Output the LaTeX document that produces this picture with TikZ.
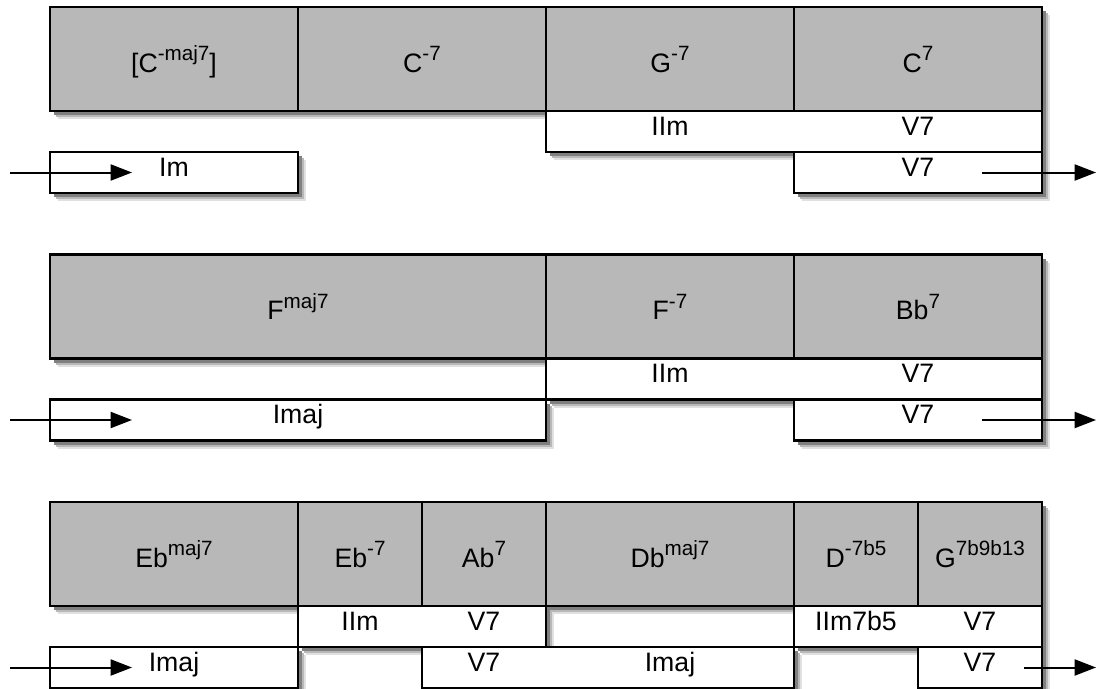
\documentclass[tikz,border=0pt]{standalone}
\usepackage{fontspec}
\setmainfont{Liberation Sans}
\usetikzlibrary{arrows.meta}

\definecolor{chordgray}{gray}{0.72}
\newcommand{\chordext}[1]{\raisebox{0.43em}{\fontsize{15.5}{16}\selectfont #1}}

\begin{document}
\begin{tikzpicture}[x=0.75pt, y=-0.75pt, line width=1.6pt,
    boxshadow/.style={
      preaction={draw=none, fill=black!12, transform canvas={shift={(6pt,-6pt)}}},
      preaction={draw=none, fill=black!28, transform canvas={shift={(4.5pt,-4.5pt)}}},
      preaction={draw=none, fill=black!50, transform canvas={shift={(3pt,-3pt)}}}},
    cell/.style={draw, boxshadow, anchor=north west, inner sep=0pt, outer sep=0pt},
    chord/.style={cell, fill=chordgray, minimum height=78pt},
    fn/.style={cell, fill=white, minimum height=30.75pt},
    lbl/.style={anchor=base, inner sep=0pt, font=\fontsize{20}{24}\selectfont},
    flow/.style={line width=1.5pt, -{Triangle[length=16pt, width=12pt]}}]
  \useasboundingbox (0,0) rectangle (1097,689);

  % first line
  \foreach \x/\w/\n in {50/248/a, 298/248/b, 546/248/c, 794/248/d}
    \node[chord, minimum width=\w*0.75pt] (c1\n) at (\x,7) {};
  \node[fn, minimum width=372pt] (f1a) at (546,111) {};
  \foreach \x/\w/\n in {50/248/a, 794/248/b}
    \node[fn, minimum width=\w*0.75pt] (g1\n) at (\x,152) {};
  \foreach \x/\y/\t [count=\i] in {174/72/{[C\chordext{-maj7}]}, 422/72/C\chordext{-7},
      670/72/G\chordext{-7}, 918/72/C\chordext{7},
      670/135/IIm, 918/135/V7, 174/176/Im, 918/176/V7}
    \node[lbl] (t1\i) at (\x,\y) {\t};

  % second line
  \foreach \x/\w/\n in {50/496/a, 546/248/b, 794/248/c}
    \node[chord, minimum width=\w*0.75pt] (c2\n) at (\x,254.5) {};
  \node[fn, minimum width=372pt] (f2a) at (546,358.5) {};
  \foreach \x/\w/\n in {50/496/a, 794/248/b}
    \node[fn, minimum width=\w*0.75pt] (g2\n) at (\x,399.5) {};
  \foreach \x/\y/\t [count=\i] in {298/319.5/F\chordext{maj7}, 670/319.5/F\chordext{-7},
      918/319.5/Bb\chordext{7},
      670/382.5/IIm, 918/382.5/V7, 298/423.5/Imaj, 918/423.5/V7}
    \node[lbl] (t2\i) at (\x,\y) {\t};

  % third line
  \foreach \x/\w/\n in {50/248/a, 298/124/b, 422/124/c, 546/248/d, 794/124/e, 918/124/f}
    \node[chord, minimum width=\w*0.75pt] (c3\n) at (\x,502) {};
  \foreach \x/\w/\n in {298/248/a, 794/248/b}
    \node[fn, minimum width=\w*0.75pt] (f3\n) at (\x,606) {};
  \foreach \x/\w/\n in {50/248/a, 422/372/b, 918/124/c}
    \node[fn, minimum width=\w*0.75pt] (g3\n) at (\x,647) {};
  \foreach \x/\y/\t [count=\i] in {174/567/Eb\chordext{maj7}, 360/567/Eb\chordext{-7},
      484/567/Ab\chordext{7}, 670/567/Db\chordext{maj7},
      856/567/D\chordext{-7b5}, 980/567/G\chordext{7b9b13},
      360/630/IIm, 484/630/V7, 856/630/IIm7b5, 980/630/V7,
      174/671/Imaj, 484/671/V7, 670/671/Imaj, 980/671/V7}
    \node[lbl] (t3\i) at (\x,\y) {\t};

  % in and out
  \foreach \y/\xo [count=\i] in {172.5/982, 420/982, 667.5/1024} {
    \coordinate (in\i) at (10,\y);
    \coordinate (ini\i) at (132,\y);
    \coordinate (out\i) at (\xo,\y);
    \coordinate (outo\i) at (1096,\y);
    \draw[flow] (in\i) -- (ini\i);
    \draw[flow] (out\i) -- (outo\i);
  }
\end{tikzpicture}
\end{document}
